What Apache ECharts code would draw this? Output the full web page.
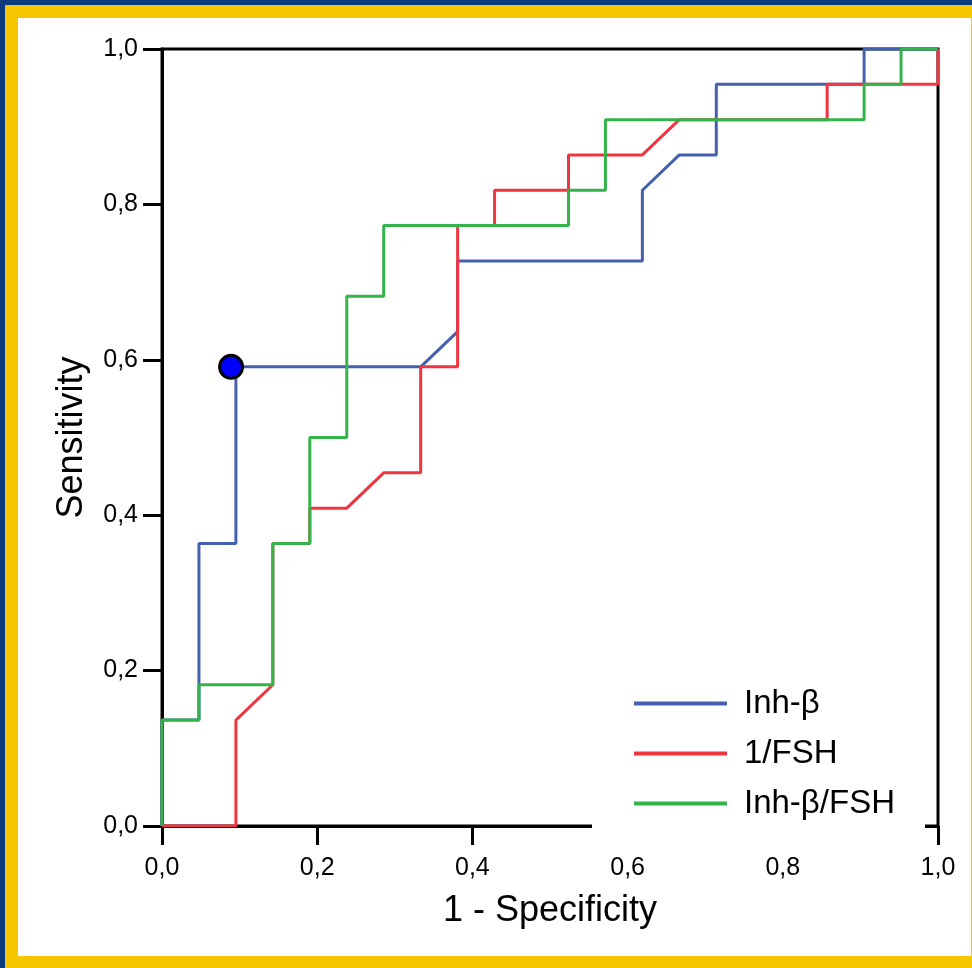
<!DOCTYPE html>
<html>
<head>
<meta charset="utf-8">
<script src="https://cdn.jsdelivr.net/npm/echarts@6/dist/echarts.min.js"></script>
<style>
  html, body { margin: 0; padding: 0; background: #0B3B7E; }
  #chart { width: 972px; height: 968px; }
</style>
</head>
<body>
<div id="chart"></div>
<script>
// Sample sizes read from the step structure: 21 negatives, 22 positives
const N_NEG = 21;
const N_POS = 22;

const seriesNames = ['Inh-\u03b2', '1/FSH', 'Inh-\u03b2/FSH'];
const seriesColors = ['#4361AE', '#EF3540', '#33B34A'];

// ROC vertices as [false positives count, true positives count]
const inhB = [[0,0],[0,3],[1,3],[1,8],[2,8],[2,13],[7,13],[8,14],[8,16],[13,16],[13,18],[14,19],[15,19],[15,21],[19,21],[19,22],[21,22]];
const invFSH = [[0,0],[2,0],[2,3],[3,4],[3,8],[4,8],[4,9],[5,9],[6,10],[7,10],[7,13],[8,13],[8,17],[9,17],[9,18],[11,18],[11,19],[13,19],[14,20],[18,20],[18,21],[21,21],[21,22]];
const ratio = [[0,0],[0,3],[1,3],[1,4],[3,4],[3,8],[4,8],[4,11],[5,11],[5,15],[6,15],[6,17],[11,17],[11,18],[12,18],[12,20],[19,20],[19,21],[20,21],[20,22],[21,22]];

// Highlighted cut-off point [1 - specificity, sensitivity]
const cutoffPoint = [0.089, 13 / 22];

const xTicks = [0, 0.2, 0.4, 0.6, 0.8, 1.0];
const yTicks = [0, 0.2, 0.4, 0.6, 0.8, 1.0];

const toRates = pts => pts.map(p => [p[0] / N_NEG, p[1] / N_POS]);
const fmt = v => v.toFixed(1).replace('.', ',');
const FONT = 'Liberation Sans, Arial, Helvetica, sans-serif';

const chart = echarts.init(document.getElementById('chart'), null, { renderer: 'canvas' });

const lineSeries = [inhB, invFSH, ratio].map((d, i) => ({
  name: seriesNames[i],
  type: 'line',
  data: toRates(d),
  showSymbol: false,
  symbol: 'none',
  lineStyle: { color: seriesColors[i], width: 3 },
  itemStyle: { color: seriesColors[i] },
  z: 3 + i,
  animation: false
}));

chart.setOption({
  backgroundColor: '#0B3B7E',
  animation: false,
  graphic: [
    { type: 'rect', shape: { x: 5, y: 5, width: 972, height: 968 }, style: { fill: '#F6C600' }, z: -10, silent: true },
    { type: 'rect', shape: { x: 18, y: 18, width: 953, height: 938 }, style: { fill: '#FFFFFF' }, z: -9, silent: true }
  ],
  grid: {
    left: 162, top: 49, right: 34, bottom: 142,
    show: true, borderColor: '#000', borderWidth: 3, backgroundColor: 'transparent'
  },
  legend: {
    orient: 'vertical',
    left: 592,
    top: 677,
    padding: [10, 30, 30, 42],
    backgroundColor: '#FFFFFF',
    itemWidth: 93,
    itemHeight: 4,
    itemGap: 17,
    icon: 'rect',
    data: seriesNames.map(n => ({ name: n, icon: 'rect' })),
    textStyle: { fontFamily: FONT, fontSize: 33, color: '#000', padding: [0, 0, 0, 12] },
    selectedMode: false,
    z: 10
  },
  xAxis: {
    type: 'value', min: 0, max: 1, interval: 0.2,
    name: '1 - Specificity', nameLocation: 'middle', nameGap: 67,
    nameTextStyle: { fontFamily: FONT, fontSize: 36, color: '#000' },
    axisLine: { show: true, onZero: false, lineStyle: { color: '#000', width: 3 } },
    axisTick: { show: true, inside: false, length: 19, lineStyle: { color: '#000', width: 3 } },
    axisLabel: { margin: 30, fontFamily: FONT, fontSize: 25, color: '#000', formatter: v => fmt(v), customValues: xTicks },
    splitLine: { show: false }
  },
  yAxis: {
    type: 'value', min: 0, max: 1, interval: 0.2,
    name: 'Sensitivity', nameLocation: 'middle', nameGap: 72,
    nameTextStyle: { fontFamily: FONT, fontSize: 36, color: '#000' },
    axisLine: { show: true, onZero: false, lineStyle: { color: '#000', width: 3 } },
    axisTick: { show: true, inside: false, length: 19, lineStyle: { color: '#000', width: 3 } },
    axisLabel: { margin: 24, fontFamily: FONT, fontSize: 25, color: '#000', formatter: v => fmt(v), customValues: yTicks },
    splitLine: { show: false }
  },
  series: lineSeries.concat([{
    name: 'cutoff',
    type: 'scatter',
    data: [cutoffPoint],
    symbol: 'circle',
    symbolSize: 23,
    itemStyle: { color: '#0000FF', opacity: 1, borderColor: '#000', borderWidth: 3 },
    z: 8,
    animation: false
  }])
});
</script>
</body>
</html>
